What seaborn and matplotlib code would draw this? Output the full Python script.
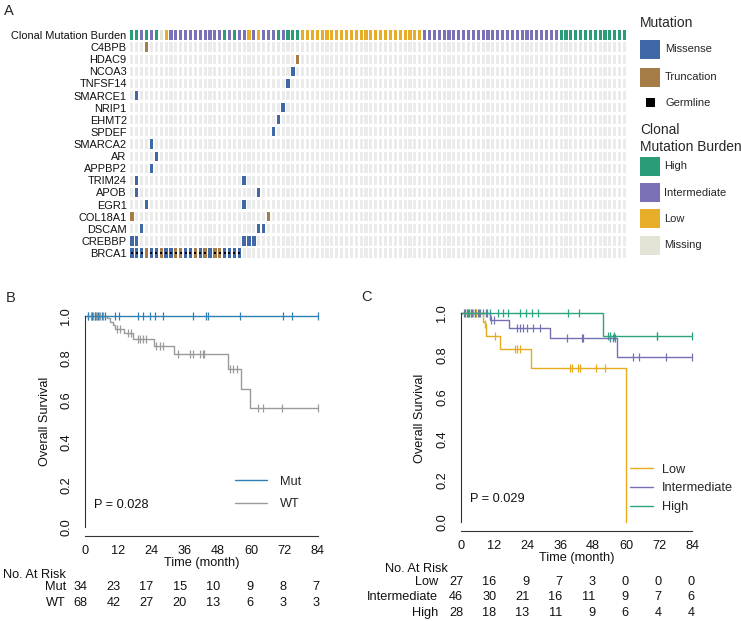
import numpy as np
import seaborn as sns
import matplotlib
matplotlib.use("Agg")
import matplotlib.pyplot as plt
from matplotlib.patches import Rectangle
from matplotlib.lines import Line2D


# ---- panel A data (oncoprint) ----
genes = ["C4BPB", "HDAC9", "NCOA3", "TNFSF14", "SMARCE1", "NRIP1", "EHMT2", "SPDEF",
         "SMARCA2", "AR", "APPBP2", "TRIM24", "APOB", "EGR1", "COL18A1", "DSCAM",
         "CREBBP", "BRCA1"]
missense_cols = [[], [], [33], [32], [1], [31], [30], [29], [4], [5], [4], [1, 23], [1, 26],
                 [3, 23], [], [2, 26, 27], [0, 1, 23, 24, 25],
                 [0, 1, 2, 4, 5, 7, 8, 11, 12, 14, 16, 19, 20, 21, 22]]
truncation_cols = [[3], [34], [], [], [], [], [], [], [], [], [], [], [], [], [0, 28], [], [],
                   [3, 6, 9, 10, 13, 15, 17, 18]]
germline_cols = [0, 1, 2, 4, 5, 6, 7, 8, 9, 10, 11, 12, 13, 14, 15, 17, 18, 19, 20, 21, 22]
burden = list("HHIHIH" + "M" + "L" + "I" * 11 + "HIHII" + "LILII" + "IHIHHH"
              + "L" * 25 + "I" * 28 + "H" * 14)

# ---- panel B data (BRCA1 Mut vs WT) ----
mut_time = [0, 84]
mut_surv = [1.0, 1.0]
mut_censor = [1.2, 2.4, 3.6, 4.8, 6.0, 7.2, 10.8, 12.3, 19.2, 21.0, 23.5, 25.3, 28.3, 39.1,
              43.7, 44.3, 55.9, 71.3, 74.6, 84.0]
wt_time = [0, 7.8, 9.0, 10.2, 10.8, 14.1, 17.4, 25.0, 32.2, 51.7, 56.4, 59.5, 84]
wt_surv = [1.0, 0.99, 0.97, 0.955, 0.94, 0.92, 0.89, 0.86, 0.82, 0.75, 0.655, 0.565, 0.565]
wt_censor = [1.2, 2.0, 2.5, 3.0, 3.5, 4.0, 4.5, 5.0, 5.5, 6.5, 11.5, 12.5, 15.5, 16.5, 19.2,
             20.0, 21.0, 22.0, 25.6, 27.0, 28.3, 33.7, 37.9, 39.1, 41.5, 42.7, 43.1, 52.3,
             53.5, 54.7, 62.6, 64.4, 71.0, 84.0]

# ---- panel C data (clonal mutation burden) ----
low_time = [0, 7.9, 8.7, 9.1, 14.2, 25.3, 59.8]
low_surv = [1.0, 0.96, 0.95, 0.89, 0.83, 0.74, 0.0]
low_censor = [1.5, 2.5, 3.5, 4.5, 5.5, 8.8, 12.3, 19.6, 20.2, 21.4, 39.6, 40.2, 42.6, 43.2,
              49.2, 52.3]
int_time = [0, 10.5, 17.5, 32.3, 56.5, 84]
int_surv = [1.0, 0.97, 0.93, 0.88, 0.79, 0.79]
int_censor = [1.0, 2.0, 3.0, 4.0, 5.0, 6.0, 7.0, 9.0, 11.0, 12.0, 20.2, 21.4, 22.6, 23.8,
              26.3, 28.7, 38.4, 43.8, 44.4, 54.1, 55.3, 55.9, 62.6, 64.7, 74.4, 84.0]
high_time = [0, 51.7, 84]
high_surv = [1.0, 0.89, 0.89]
high_censor = [1.5, 2.5, 3.5, 5.0, 6.5, 8.0, 9.5, 10.5, 13.6, 15.4, 17.2, 21.4, 23.6, 25.7,
               28.1, 39.0, 43.0, 53.5, 54.1, 55.7, 71.0, 71.3, 84.0]

risk_times = [0, 12, 24, 36, 48, 60, 72, 84]
mut_risk = [34, 23, 17, 15, 10, 9, 8, 7]
wt_risk = [68, 42, 27, 20, 13, 6, 3, 3]
low_risk = [27, 16, 9, 7, 3, 0, 0, 0]
int_risk = [46, 30, 21, 16, 11, 9, 7, 6]
high_risk = [28, 18, 13, 11, 9, 6, 4, 4]

# colours
c_missense = "#4068a6"
c_trunc = "#a57c45"
burden_colors = {"H": "#2a9d78", "I": "#7a72b6", "L": "#e7ad29", "M": "#e3e4d5"}
c_mut, c_wt = "#2f80b5", "#9a9a9a"
c_low, c_int, c_high = "#e6ab1e", "#7570b3", "#2aa57f"

sns.set_theme(style="white")
plt.rcParams["font.family"] = ["Liberation Sans", "DejaVu Sans"]

W, H = 741, 621
fig = plt.figure(figsize=(W / 100, H / 100), dpi=100)


def frac(l, t, r, b):
    return [l / W, 1 - b / H, (r - l) / W, (b - t) / H]


# ================= panel A =================
ax_a = fig.add_axes(frac(129.5, 28.9, 627, 259.1))
n = len(burden)
cols = np.arange(n)
bh, bw = 0.76, 0.64
for r in range(1, len(genes) + 1):
    ax_a.bar(cols, bh, bottom=r - bh / 2, width=bw, color="#ebebeb", linewidth=0)
ax_a.bar(cols, bh, bottom=-bh / 2, width=bw, color=[burden_colors[b] for b in burden],
         linewidth=0)
for i, g in enumerate(genes):
    r = i + 1
    if missense_cols[i]:
        ax_a.bar(missense_cols[i], bh, bottom=r - bh / 2, width=0.68, color=c_missense,
                 linewidth=0)
    if truncation_cols[i]:
        ax_a.bar(truncation_cols[i], bh, bottom=r - bh / 2, width=0.68, color=c_trunc,
                 linewidth=0)
sns.scatterplot(x=germline_cols, y=[len(genes)] * len(germline_cols), marker="s", s=3,
                color="black", linewidth=0, ax=ax_a)
ax_a.set_xlim(-0.5, n - 0.5)
ax_a.set_ylim(len(genes) + 0.5, -0.5)
ax_a.set_xticks([])
ax_a.set_yticks(range(len(genes) + 1))
ax_a.set_yticklabels(["Clonal Mutation Burden"] + genes, fontsize=7.9, color="#111111")
ax_a.tick_params(axis="y", length=0, pad=2)
ax_a.set_xlabel("")
ax_a.set_ylabel("")
for s in ax_a.spines.values():
    s.set_visible(False)

# overlay for legend and panel letters
ov = fig.add_axes([0, 0, 1, 1])
ov.set_xlim(0, W)
ov.set_ylim(H, 0)
ov.axis("off")
ov.patch.set_visible(False)

ov.text(4, 11, "A", fontsize=10.5, va="center", ha="left")
ov.text(6, 298, "B", fontsize=10.5, va="center", ha="left")
ov.text(361, 297, "C", fontsize=10.5, va="center", ha="left")

ov.text(640, 23, "Mutation", fontsize=9.9, va="center", ha="left")
for yc, lab, col in [(49.5, "Missense", c_missense), (77, "Truncation", c_trunc)]:
    ov.add_patch(Rectangle((640, yc - 9.5), 20, 19, color=col, lw=0))
    ov.text(665, yc, lab, fontsize=8, va="center", ha="left")
ov.add_patch(Rectangle((645.5, 98), 9, 9, color="black", lw=0))
ov.text(665, 102.5, "Germline", fontsize=8, va="center", ha="left")
ov.text(640, 130, "Clonal", fontsize=9.9, va="center", ha="left")
ov.text(640, 147, "Mutation Burden", fontsize=9.9, va="center", ha="left")
for yc, lab, key in [(166, "High", "H"), (192.5, "Intermediate", "I"),
                     (218.5, "Low", "L"), (245, "Missing", "M")]:
    ov.add_patch(Rectangle((640, yc - 9.5), 20, 19, color=burden_colors[key], lw=0))
    ov.text(664, yc, lab, fontsize=8, va="center", ha="left")


# ================= KM panels =================
def km(ax, t, s, cens, color):
    sns.lineplot(x=t, y=s, drawstyle="steps-post", estimator=None, sort=False,
                 color=color, linewidth=1.0, ax=ax, clip_on=False)
    ct = np.array(cens)
    idx = np.searchsorted(np.array(t), ct, side="right") - 1
    cy = np.array(s)[idx]
    sns.scatterplot(x=ct, y=cy, marker="|", s=30, color=color, linewidths=0.9, ax=ax,
                    clip_on=False)


def style_km(ax, box, ylab_x):
    l, t, r, b = box
    ax.set_xlim(0, 84)
    ax.set_xticks(risk_times)
    ax.set_yticks([0, 0.2, 0.4, 0.6, 0.8, 1.0])
    ax.set_yticklabels(["0.0", "0.2", "0.4", "0.6", "0.8", "1.0"], rotation=90, va="center")
    for sp in ["top", "right"]:
        ax.spines[sp].set_visible(False)
    for sp in ["left", "bottom"]:
        ax.spines[sp].set_color("#333333")
        ax.spines[sp].set_linewidth(0.8)
    ax.spines["left"].set_bounds(0, 1)
    ax.spines["bottom"].set_bounds(0, 84)
    ax.tick_params(direction="out", length=4, width=0.8, color="#333333",
                   labelsize=9.2, labelcolor="#111111")
    ax.tick_params(axis="y", pad=5)
    ax.tick_params(axis="x", pad=2.5)
    ax.set_xlabel("Time (month)", fontsize=9.2, color="#111111")
    ax.xaxis.label.set_va("center")
    ax.xaxis.set_label_coords(0.5, -27.3 / (b - t))
    ax.set_ylabel("Overall Survival", fontsize=9.2, color="#111111")
    ax.yaxis.label.set_va("center")
    ax.yaxis.set_label_coords((ylab_x - l) / (r - l), 0.5)
    ax.grid(False)


def risk_table(ax, box, rows, ys, head_y, lab_x, head_x):
    l, t, r, b = box
    tr = ax.get_xaxis_transform()
    ax.text(head_x, (b - head_y) / (b - t), "No. At Risk", transform=tr, fontsize=9.2,
            ha="left", va="center", clip_on=False, color="#111111")
    for (lab, vals), y in zip(rows, ys):
        yy = (b - y) / (b - t)
        ax.text(lab_x, yy, lab, transform=tr, fontsize=9.2, ha="right", va="center",
                clip_on=False, color="#111111")
        for tt, v in zip(risk_times, vals):
            ax.text(tt + 0.8, yy, str(v), transform=tr, fontsize=9.2, ha="right",
                    va="center", clip_on=False, color="#111111")


# panel B
box_b = (85, 307.6, 317.7, 535.7)
ax_b = fig.add_axes(frac(*box_b))
km(ax_b, wt_time, wt_surv, wt_censor, c_wt)
km(ax_b, mut_time, mut_surv, mut_censor, c_mut)
ax_b.set_ylim(-0.0412, 1.0398)
style_km(ax_b, box_b, 45)
ax_b.text(3.2, 0.104, "P = 0.028", fontsize=9.2, va="center", ha="left", color="#111111")
hb = [Line2D([], [], color=c_mut, lw=1.0), Line2D([], [], color=c_wt, lw=1.0)]
ax_b.legend(hb, ["Mut", "WT"], loc="upper left", bbox_to_anchor=(54.1, 0.243),
            bbox_transform=ax_b.transData, frameon=False, fontsize=9.2, borderpad=0,
            borderaxespad=0, handlelength=2.5, handletextpad=1.0, labelspacing=0.83)
risk_table(ax_b, box_b, [("Mut", mut_risk), ("WT", wt_risk)], [587.5, 603.5], 575.5,
           -6.9, -29.6)

# panel C
box_c = (461, 305, 692.3, 531)
ax_c = fig.add_axes(frac(*box_c))
km(ax_c, low_time, low_surv, low_censor, c_low)
km(ax_c, int_time, int_surv, int_censor, c_int)
km(ax_c, high_time, high_surv, high_censor, c_high)
ax_c.set_ylim(-0.0417, 1.04)
style_km(ax_c, box_c, 420)
ax_c.text(3.3, 0.11, "P = 0.029", fontsize=9.2, va="center", ha="left", color="#111111")
hc = [Line2D([], [], color=c, lw=1.0) for c in (c_low, c_int, c_high)]
ax_c.legend(hc, ["Low", "Intermediate", "High"], loc="upper left",
            bbox_to_anchor=(61.4, 0.281), bbox_transform=ax_c.transData, frameon=False,
            fontsize=9.2, borderpad=0, borderaxespad=0, handlelength=1.8,
            handletextpad=0.7, labelspacing=0.53)
risk_table(ax_c, box_c, [("Low", low_risk), ("Intermediate", int_risk), ("High", high_risk)],
           [582, 597, 613], 569, -8.35, -27.6)

fig.savefig("out.png", dpi=100)
